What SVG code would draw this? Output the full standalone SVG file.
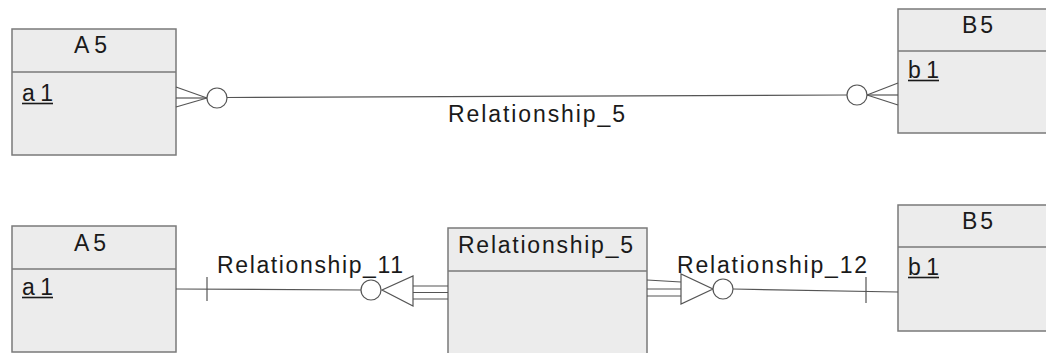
<svg xmlns="http://www.w3.org/2000/svg" width="1046" height="353" viewBox="0 0 1046 353">
<style>
.box{fill:#ececec;stroke:#7a7a7a;stroke-width:1.5}
.sep{stroke:#7a7a7a;stroke-width:1.5}
.t{font-family:"Liberation Sans",Arial,sans-serif;font-size:23px;fill:#1a1a1a}
.c{stroke:#555;stroke-width:1.2;fill:none}
.o{stroke:#555;stroke-width:1.2;fill:#fff}
.u{stroke:#1a1a1a;stroke-width:1.6}
</style>
<rect width="1046" height="353" fill="#fff"/>
<g id="A5_top">
<rect class="box" x="12" y="29" width="164" height="126"/>
<line class="sep" x1="12" y1="72" x2="176" y2="72"/>
<text class="t" x="74" y="53" textLength="33" lengthAdjust="spacing">A5</text>
<text class="t" x="22" y="101" textLength="31" lengthAdjust="spacing">a1</text>
<line class="u" x1="22" y1="103.5" x2="53" y2="103.5"/>
</g>
<g id="B5_top">
<rect class="box" x="898" y="9" width="162" height="124"/>
<line class="sep" x1="898" y1="51" x2="1060" y2="51"/>
<text class="t" x="962" y="33" textLength="31" lengthAdjust="spacing">B5</text>
<text class="t" x="908" y="78" textLength="31" lengthAdjust="spacing">b1</text>
<line class="u" x1="908" y1="80.5" x2="939" y2="80.5"/>
</g>
<g id="A5_bottom">
<rect class="box" x="12" y="226" width="164" height="126"/>
<line class="sep" x1="12" y1="269" x2="176" y2="269"/>
<text class="t" x="74" y="251" textLength="32" lengthAdjust="spacing">A5</text>
<text class="t" x="22" y="295" textLength="31" lengthAdjust="spacing">a1</text>
<line class="u" x1="22" y1="297.5" x2="53" y2="297.5"/>
</g>
<g id="Relationship_5_entity">
<rect class="box" x="448" y="228" width="199" height="130"/>
<line class="sep" x1="448" y1="271" x2="647" y2="271"/>
<text class="t" x="458" y="253" textLength="175" lengthAdjust="spacing">Relationship_5</text>
</g>
<g id="B5_bottom">
<rect class="box" x="898" y="205" width="162" height="126"/>
<line class="sep" x1="898" y1="247" x2="1060" y2="247"/>
<text class="t" x="962" y="229" textLength="31" lengthAdjust="spacing">B5</text>
<text class="t" x="908" y="275" textLength="31" lengthAdjust="spacing">b1</text>
<line class="u" x1="908" y1="277.5" x2="939" y2="277.5"/>
</g>
<g id="connectors">
<line class="c" x1="176" y1="87" x2="207" y2="98"/>
<line class="c" x1="176" y1="98" x2="207" y2="98"/>
<line class="c" x1="176" y1="107" x2="207" y2="98"/>
<circle class="o" cx="217" cy="98" r="10"/>
<line class="c" x1="227" y1="97.5" x2="847" y2="95"/>
<circle class="o" cx="857" cy="95" r="10"/>
<line class="c" x1="867" y1="95" x2="898" y2="83"/>
<line class="c" x1="867" y1="95" x2="898" y2="95"/>
<line class="c" x1="867" y1="95" x2="898" y2="105"/>
<text class="t" x="448" y="122" textLength="177" lengthAdjust="spacing">Relationship_5</text>
<line class="c" x1="176" y1="289" x2="361" y2="290"/>
<line class="c" x1="207" y1="277" x2="207" y2="301"/>
<circle class="o" cx="371" cy="290" r="10"/>
<polygon class="c" points="413,276 413,306 382,290"/>
<line class="c" x1="413" y1="286" x2="448" y2="286"/>
<line class="c" x1="413" y1="292.5" x2="448" y2="292.5"/>
<line class="c" x1="413" y1="299" x2="448" y2="299"/>
<text class="t" x="217" y="273" textLength="186" lengthAdjust="spacing">Relationship_11</text>
<line class="c" x1="647" y1="280" x2="681" y2="282"/>
<line class="c" x1="647" y1="289" x2="681" y2="289"/>
<line class="c" x1="647" y1="296" x2="681" y2="296"/>
<polygon class="c" points="681,274 681,304 713,289"/>
<circle class="o" cx="723" cy="289" r="10"/>
<line class="c" x1="733" y1="289" x2="898" y2="292"/>
<line class="c" x1="866" y1="277" x2="866" y2="303"/>
<text class="t" x="677" y="273" textLength="190" lengthAdjust="spacing">Relationship_12</text>
</g>
</svg>
